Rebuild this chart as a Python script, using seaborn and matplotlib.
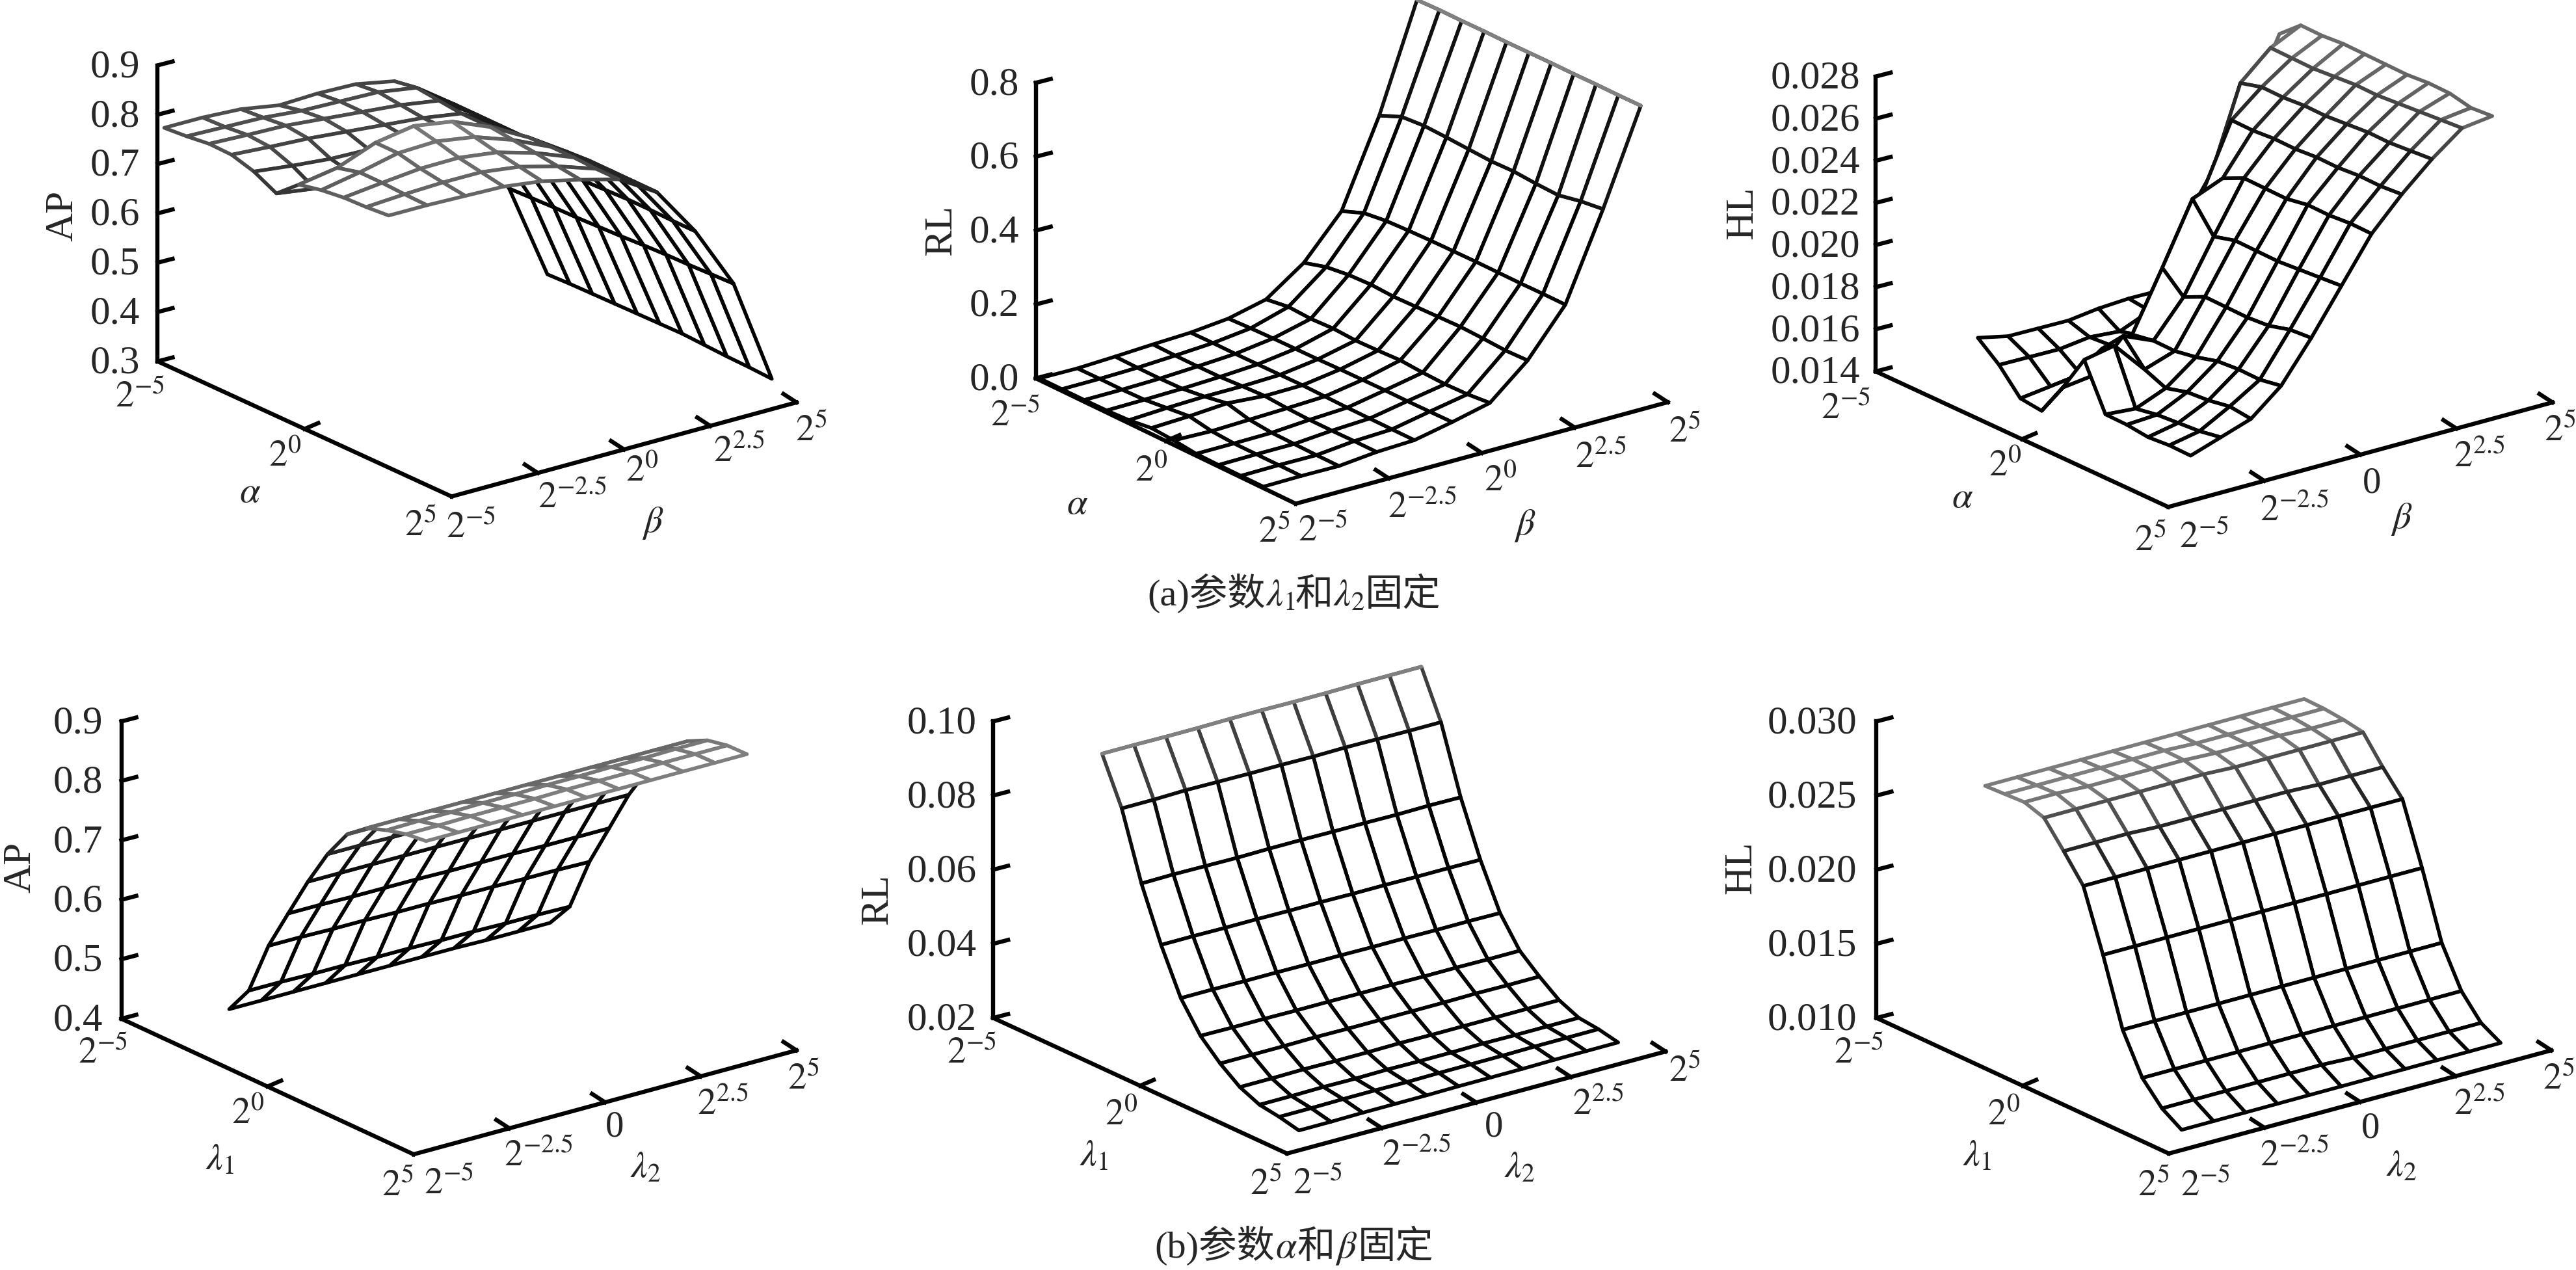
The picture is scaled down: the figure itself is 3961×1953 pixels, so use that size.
import numpy as np
import seaborn as sns
import matplotlib
matplotlib.use('Agg')
import matplotlib.pyplot as plt
from mpl_toolkits.mplot3d import proj3d

W, H = 3962, 1953

# parameter grid, log2 scale
exponents = [-5, -4, -3, -2, -1, 0, 1, 2, 3, 4, 5]

# values, rows are alpha / lambda1, columns beta / lambda2
ap_top = [
    [.786, .788, .786, .775, .780, .780, .767, .716, .625, .493, .300],
    [.790, .790, .790, .785, .785, .785, .775, .722, .628, .495, .302],
    [.796, .795, .795, .790, .785, .780, .770, .722, .630, .497, .303],
    [.795, .792, .790, .785, .780, .775, .765, .722, .630, .498, .304],
    [.782, .775, .770, .770, .775, .775, .765, .722, .632, .500, .305],
    [.759, .750, .760, .775, .790, .790, .772, .725, .634, .502, .306],
    [.798, .813, .845, .860, .850, .820, .780, .732, .636, .505, .307],
    [.808, .825, .845, .850, .840, .815, .782, .735, .638, .507, .305],
    [.814, .825, .835, .838, .830, .810, .782, .735, .638, .508, .303],
    [.816, .823, .828, .830, .822, .804, .780, .735, .637, .510, .302],
    [.820, .822, .822, .822, .814, .798, .780, .735, .637, .512, .300],
]
rl_top = [
    [.000, .000, .005, .011, .016, .027, .052, .124, .237, .469, .755],
    [.000, .001, .004, .010, .017, .030, .061, .142, .261, .495, .757],
    [.000, .001, .004, .010, .017, .032, .058, .150, .269, .500, .757],
    [.001, .003, .006, .011, .018, .033, .061, .153, .272, .498, .758],
    [.004, .010, .014, .015, .019, .034, .058, .150, .274, .495, .758],
    [.012, .017, .025, .018, .020, .036, .060, .152, .275, .492, .759],
    [.008, .006, .010, .014, .019, .037, .063, .154, .276, .494, .760],
    [.001, .002, .004, .012, .018, .038, .059, .156, .276, .490, .760],
    [.000, .002, .003, .012, .018, .038, .057, .154, .276, .488, .761],
    [.000, .002, .002, .013, .018, .039, .059, .151, .277, .501, .761],
    [.000, .002, .002, .013, .018, .040, .065, .153, .277, .509, .762],
]
hl_top = [
    [.0156, .0153, .0153, .0153, .0155, .0156, .0156, .0189, .0211, .0233, .0263],
    [.0147, .0147, .0147, .0149, .0148, .0154, .0175, .0210, .0251, .0264, .0271],
    [.0135, .0137, .0139, .0149, .0150, .0165, .0209, .0241, .0253, .0263, .0270],
    [.0133, .0145, .0155, .0158, .0186, .0215, .0221, .0240, .0252, .0262, .0270],
    [.0148, .0150, .0165, .0159, .0176, .0201, .0225, .0240, .0252, .0262, .0269],
    [.0165, .0168, .0153, .0158, .0180, .0203, .0224, .0239, .0251, .0262, .0268],
    [.0143, .0142, .0148, .0159, .0179, .0202, .0223, .0239, .0251, .0261, .0267],
    [.0142, .0143, .0150, .0161, .0178, .0201, .0224, .0238, .0251, .0261, .0267],
    [.0140, .0143, .0150, .0161, .0178, .0201, .0223, .0238, .0250, .0261, .0266],
    [.0140, .0143, .0151, .0160, .0180, .0201, .0223, .0237, .0250, .0261, .0263],
    [.0139, .0144, .0149, .0161, .0180, .0201, .0222, .0237, .0250, .0261, .0263],
]
ap_bottom = [
    [.410, .410, .410, .410, .410, .410, .410, .410, .409, .409, .409],
    [.458, .458, .457, .457, .456, .456, .455, .455, .454, .454, .453],
    [.550, .550, .549, .549, .548, .548, .547, .547, .546, .546, .545],
    [.621, .621, .620, .620, .620, .619, .619, .619, .618, .618, .618],
    [.691, .691, .691, .691, .691, .691, .691, .691, .691, .691, .691],
    [.754, .754, .753, .753, .753, .752, .752, .752, .751, .751, .751],
    [.804, .804, .803, .803, .803, .802, .802, .802, .801, .801, .801],
    [.831, .831, .831, .831, .831, .831, .831, .831, .831, .831, .831],
    [.844, .845, .845, .846, .846, .847, .847, .848, .848, .849, .849],
    [.854, .854, .855, .855, .855, .856, .856, .856, .857, .857, .857],
    [.859, .859, .859, .859, .859, .859, .859, .859, .859, .859, .859],
]
rl_bottom = [
    [.0961, .0961, .0960, .0960, .0961, .0961, .0960, .0960, .0961, .0961, .0961],
    [.0840, .0840, .0842, .0841, .0840, .0840, .0839, .0840, .0839, .0838, .0838],
    [.0664, .0665, .0664, .0663, .0664, .0664, .0663, .0663, .0662, .0663, .0662],
    [.0525, .0525, .0524, .0524, .0523, .0523, .0522, .0522, .0521, .0521, .0520],
    [.0408, .0408, .0407, .0407, .0406, .0406, .0405, .0405, .0404, .0404, .0403],
    [.0333, .0332, .0332, .0331, .0331, .0330, .0330, .0329, .0329, .0328, .0328],
    [.0285, .0285, .0285, .0286, .0285, .0285, .0285, .0285, .0286, .0285, .0285],
    [.0248, .0248, .0249, .0248, .0248, .0249, .0248, .0248, .0248, .0248, .0248],
    [.0227, .0227, .0228, .0227, .0228, .0227, .0227, .0228, .0227, .0227, .0227],
    [.0221, .0221, .0222, .0222, .0221, .0222, .0222, .0222, .0223, .0223, .0223],
    [.0211, .0211, .0212, .0212, .0212, .0213, .0213, .0213, .0214, .0214, .0214],
]
hl_bottom = [
    [.0272, .0272, .0272, .0272, .0272, .0272, .0272, .0272, .0272, .0272, .0272],
    [.0273, .0273, .0273, .0273, .0273, .0273, .0272, .0272, .0272, .0272, .0272],
    [.0274, .0274, .0273, .0273, .0273, .0273, .0272, .0272, .0272, .0271, .0271],
    [.0270, .0270, .0270, .0270, .0270, .0270, .0269, .0269, .0269, .0269, .0269],
    [.0254, .0254, .0254, .0253, .0253, .0253, .0253, .0253, .0252, .0252, .0252],
    [.0237, .0237, .0237, .0237, .0237, .0237, .0237, .0237, .0237, .0237, .0237],
    [.0197, .0197, .0197, .0197, .0197, .0197, .0197, .0197, .0197, .0197, .0197],
    [.0153, .0153, .0153, .0153, .0153, .0153, .0153, .0153, .0153, .0153, .0153],
    [.0127, .0127, .0127, .0127, .0127, .0127, .0127, .0127, .0127, .0127, .0127],
    [.0113, .0113, .0113, .0113, .0113, .0113, .0112, .0112, .0112, .0112, .0112],
    [.0105, .0105, .0105, .0105, .0105, .0105, .0105, .0105, .0105, .0105, .0105],
]

ap_top_ticks = ['0.3', '0.4', '0.5', '0.6', '0.7', '0.8', '0.9']
rl_top_ticks = ['0.0', '0.2', '0.4', '0.6', '0.8']
hl_top_ticks = ['0.014', '0.016', '0.018', '0.020', '0.022', '0.024', '0.026', '0.028']
ap_bottom_ticks = ['0.4', '0.5', '0.6', '0.7', '0.8', '0.9']
rl_bottom_ticks = ['0.02', '0.04', '0.06', '0.08', '0.10']
hl_bottom_ticks = ['0.010', '0.015', '0.020', '0.025', '0.030']

near_labels = ['$2^{-5}$', '$2^{0}$', '$2^{5}$']
far_labels = ['$2^{-5}$', '$2^{-2.5}$', '$2^{0}$', '$2^{2.5}$', '$2^{5}$']
far_labels_zero = ['$2^{-5}$', '$2^{-2.5}$', '0', '$2^{2.5}$', '$2^{5}$']

# layout in pixels of the output picture (y down).
# surf: corner at lowest z, alpha run, beta run, px per z unit
# frame: z axis x, z top y, z bottom y, end of alpha axis, end of beta axis
# crest: the steep panels have one grey edge at the top, (axis, index) of that edge
panels = [
    dict(z=ap_top, ticks=ap_top_ticks, name='AP', a='$\\alpha$', b='$\\beta$', far=far_labels,
         surf=(252.5, 565.4, 345.1, 160.7, 589.2, 143.5, 758.9),
         frame=(242.4, 100.5, 555.7, 694.4, 763.5, 1224.7, 618.8), tick_x=215,
         near_pos=[(215, 611), (438, 703), (646, 809)], a_pos=(385, 758),
         far_pos=[(724, 812), (880, 766), (987, 726), (1136, 695), (1247, 663)], b_pos=(1004, 804),
         name_pos=(97, 332)),
    dict(z=rl_top, ticks=rl_top_ticks, name='RL', a='$\\alpha$', b='$\\beta$', far=far_labels,
         surf=(1598.5, 581.8, 344.1, 166.6, 580.4, 153.1, 568.0), crest=(1, 10),
         frame=(1592.7, 127.4, 581.8, 1992.4, 774.6, 2564.5, 618.5), tick_x=1567,
         near_pos=[(1561, 640), (1770, 726), (1959, 819)], a_pos=(1657, 776),
         far_pos=[(2034, 817), (2187, 781), (2307, 741), (2461, 704), (2590, 665)], b_pos=(2345, 808),
         name_pos=(1448, 354)),
    dict(z=hl_top, ticks=hl_top_ticks, name='HL', a='$\\alpha$', b='$\\beta$', far=far_labels_zero,
         surf=(3041.2, 571.2, 327.2, 126.3, 463.8, 120.6, 32393),
         frame=(2884.2, 117.7, 571.2, 3334.0, 779.6, 3924.8, 618.8), tick_x=2860,
         near_pos=[(2838, 629), (3083, 718), (3306, 832)], a_pos=(3018, 766),
         far_pos=[(3389, 827), (3528, 786), (3647, 743), (3812, 703), (3936, 663)], b_pos=(3693, 798),
         name_pos=(2680, 327)),
    dict(z=ap_bottom, ticks=ap_bottom_ticks, name='AP', a='$\\lambda_{\\mathrm{1}}$', b='$\\lambda_{\\mathrm{2}}$', far=far_labels_zero,
         surf=(352.4, 1561.1, 302.7, 152.0, 493.4, 133.7, 914.3),
         frame=(186.6, 1109.4, 1566.6, 636.0, 1775.1, 1224.7, 1615.2), tick_x=158,
         near_pos=[(158, 1620), (381, 1714), (611, 1824)], a_pos=(338, 1784),
         far_pos=[(690, 1821), (828, 1778), (945, 1733), (1111, 1699), (1235, 1660)], b_pos=(993, 1796),
         name_pos=(32, 1334)),
    dict(z=rl_bottom, ticks=rl_bottom_ticks, name='RL', a='$\\lambda_{\\mathrm{1}}$', b='$\\lambda_{\\mathrm{2}}$', far=far_labels_zero,
         surf=(1694.6, 1592.7, 302.7, 152.0, 490.9, 133.7, 5699), crest=(0, 0),
         frame=(1527.1, 1109.4, 1565.4, 1979.0, 1773.9, 2561.0, 1617.0), tick_x=1502,
         near_pos=[(1494, 1620), (1724, 1716), (1946, 1822)], a_pos=(1682, 1778),
         far_pos=[(2026, 1821), (2178, 1777), (2297, 1733), (2457, 1699), (2590, 1648)], b_pos=(2337, 1796),
         name_pos=(1350, 1383)),
    dict(z=hl_bottom, ticks=hl_bottom_ticks, name='HL', a='$\\lambda_{\\mathrm{1}}$', b='$\\lambda_{\\mathrm{2}}$', far=far_labels_zero,
         surf=(3052.4, 1600.6, 302.2, 148.3, 490.6, 133.7, 22796),
         frame=(2885.4, 1109.4, 1565.4, 3334.9, 1773.9, 3923.0, 1615.2), tick_x=2855,
         near_pos=[(2858, 1620), (3081, 1716), (3311, 1824)], a_pos=(3040, 1778),
         far_pos=[(3391, 1824), (3528, 1778), (3645, 1736), (3812, 1699), (3934, 1660)], b_pos=(3693, 1795),
         name_pos=(2678, 1334)),
]

# caption runs, laid out one after the other
caption_a = ['(a)参数', '$\\lambda_{\\mathrm{1}}$', '和', '$\\lambda_{\\mathrm{2}}$', '固定']
caption_b = ['(b)参数', '$\\alpha$', '和', '$\\beta$', '固定']

sns.set_theme(style='white')
plt.rcParams['font.family'] = ['Liberation Serif', 'Noto Sans CJK SC', 'DejaVu Sans']
plt.rcParams['mathtext.fontset'] = 'stix'

TICK_SIZE = 44
POWER_SIZE = 41
CAPTION_SIZE = 42
MESH_LW = 4.0
AXIS_LW = 4.6

# black for most of the range, grey only near the top, like the mesh in the source
mesh_cmap = sns.blend_palette(['#000000', '#000000', '#000000', '#1a1a1a', '#808080'], as_cmap=True)

fig = plt.figure(figsize=(W / 100, H / 100), dpi=100)


def to_px(ax, x, y, z):
    xp, yp, _ = proj3d.proj_transform(x, y, z, ax.get_proj())
    return ax.transData.transform((xp, yp))


def draw_surface(p):
    x0, y0, adx, ady, bdx, bdy, zscale = p['surf']
    zz = np.array(p['z'])
    zlo = float(p['ticks'][0])
    zhi = zz.max()
    slope_a, slope_b = ady / adx, bdy / bdx
    sin_e = np.sqrt(slope_a * slope_b)
    phi = np.arctan(np.sqrt(slope_b / slope_a))
    elev = np.degrees(np.arcsin(sin_e))

    ax = fig.add_axes([0.2, 0.1, 0.5, 0.5 * W / H], projection='3d', proj_type='ortho',
                      computed_zorder=False)
    ax.set_axis_off()
    ax.patch.set_visible(False)
    ax.view_init(elev=elev, azim=-np.degrees(phi))
    ax.set_xlim(exponents[0], exponents[-1])
    ax.set_ylim(exponents[0], exponents[-1])
    ax.set_zlim(zlo, zhi)
    ax.set_box_aspect((adx / np.sin(phi), bdx / np.cos(phi), (zhi - zlo) * zscale / np.cos(np.radians(elev))))

    xx, yy = np.meshgrid(exponents, exponents, indexing='ij')
    surf = ax.plot_surface(xx, yy, zz, rstride=1, cstride=1, color='white', shade=False,
                           linewidth=MESH_LW, edgecolor='black', antialiased=True, zorder=1)
    # edge colour of each cell follows its height, second lowest corner so steep cells stay dark
    corners = np.stack([zz[:-1, :-1], zz[1:, :-1], zz[:-1, 1:], zz[1:, 1:]])
    cell = np.sort(corners, axis=0)[1]
    t = (cell - zz.min()) / (zz.max() - zz.min())
    surf.set_edgecolor(mesh_cmap(t.ravel()))

    if 'crest' in p:
        along, k = p['crest']
        if along == 1:
            ax.plot(xx[:, k], yy[:, k], zz[:, k], color=mesh_cmap(1.0), lw=MESH_LW, zorder=2)
        else:
            ax.plot(xx[k, :], yy[k, :], zz[k, :], color=mesh_cmap(1.0), lw=MESH_LW, zorder=2)

    # move and scale the axes so the grid corners land where the reference has them
    size = 1500.0
    target_a = np.array([x0, H - y0])
    target_b = np.array([x0 + adx, H - (y0 + ady)])
    ax.set_position([0.1, 0.1, size / W, size / H])
    a, b = to_px(ax, -5, -5, zlo), to_px(ax, 5, -5, zlo)
    size *= np.hypot(*(target_b - target_a)) / np.hypot(*(b - a))
    ax.set_position([0.1, 0.1, size / W, size / H])
    a = to_px(ax, -5, -5, zlo)
    shift = target_a - a
    ax.set_position([0.1 + shift[0] / W, 0.1 + shift[1] / H, size / W, size / H])


def draw_frame(over, p):
    zx, ztop, zbot, ax_end, ay_end, bx_end, by_end = p['frame']
    kw = dict(color='black', lw=AXIS_LW, solid_capstyle='projecting')
    over.plot([zx, zx], [ztop, zbot], **kw)
    over.plot([zx, ax_end], [zbot, ay_end], **kw)
    over.plot([ax_end, bx_end], [ay_end, by_end], **kw)

    # z ticks point along the beta axis
    ticks = p['ticks']
    for k, lab in enumerate(ticks):
        y = zbot + (ztop - zbot) * k / (len(ticks) - 1)
        over.plot([zx, zx + 23], [y, y - 6], **kw)
        over.text(p['tick_x'], y + 3, lab, ha='right', va='center', fontsize=TICK_SIZE)

    # alpha axis has one inner tick
    mx, my = (zx + ax_end) / 2, (zbot + ay_end) / 2
    over.plot([mx, mx + 21], [my, my - 9], **kw)
    # beta axis ticks point back along alpha
    for f in [0.25, 0.5, 0.75, 1.0]:
        tx = ax_end + (bx_end - ax_end) * f
        ty = ay_end + (by_end - ay_end) * f
        over.plot([tx, tx - 20], [ty, ty - 13], **kw)

    for lab, pos in zip(near_labels, p['near_pos']):
        over.text(pos[0], pos[1], lab, ha='center', va='center', fontsize=POWER_SIZE)
    for lab, pos in zip(p['far'], p['far_pos']):
        over.text(pos[0], pos[1], lab, ha='center', va='center', fontsize=POWER_SIZE)
    over.text(p['a_pos'][0], p['a_pos'][1], p['a'], ha='center', va='center', fontsize=POWER_SIZE)
    over.text(p['b_pos'][0], p['b_pos'][1], p['b'], ha='center', va='center', fontsize=POWER_SIZE)
    over.text(p['name_pos'][0], p['name_pos'][1], p['name'], rotation=90, ha='center', va='center',
              fontsize=TICK_SIZE)


def draw_caption(over, runs, cx, base_y):
    # place the runs side by side on a shared baseline, centred on cx
    renderer = fig.canvas.get_renderer()
    texts = [over.text(0, base_y, r, ha='left', va='baseline', fontsize=CAPTION_SIZE) for r in runs]
    widths = [t.get_window_extent(renderer).width for t in texts]
    x = cx - sum(widths) / 2
    for t, w in zip(texts, widths):
        t.set_x(x)
        x += w


for p in panels:
    draw_surface(p)

over = fig.add_axes([0, 0, 1, 1], zorder=10)
over.set_xlim(0, W)
over.set_ylim(H, 0)
over.axis('off')
over.patch.set_visible(False)
for p in panels:
    draw_frame(over, p)
draw_caption(over, caption_a, 1990, 931)
draw_caption(over, caption_b, 1990, 1934)

fig.savefig('out.png', dpi=100, facecolor='white')
